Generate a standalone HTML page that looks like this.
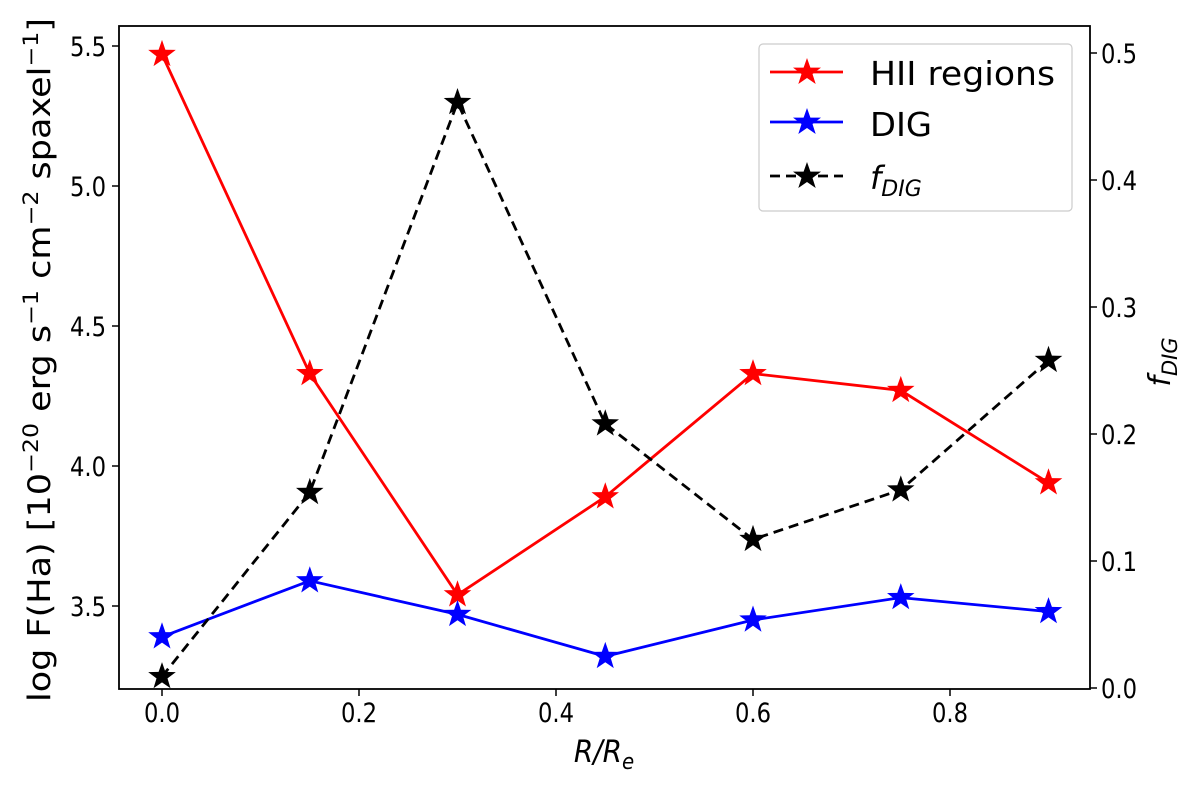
<!DOCTYPE html>
<html><head><meta charset="utf-8"><style>
body{margin:0;background:#fff}
svg text{font-family:"DejaVu Sans","Liberation Sans",sans-serif;fill:#000}
</style></head><body>
<svg id="c" width="1200" height="783" xmlns="http://www.w3.org/2000/svg"></svg>
<script>
const categories=[0,0.15,0.3,0.45,0.6,0.75,0.9];
const hiiValues=[5.47,4.33,3.54,3.89,4.33,4.27,3.94];
const digValues=[3.39,3.59,3.47,3.32,3.45,3.53,3.48];
const fdigValues=[0.009,0.154,0.461,0.208,0.117,0.156,0.258];
const xTicks=[0,0.2,0.4,0.6,0.8];
const xTickLabels=["0.0","0.2","0.4","0.6","0.8"];
const yTicks=[3.5,4.0,4.5,5.0,5.5];
const yTickLabels=["3.5","4.0","4.5","5.0","5.5"];
const y2Ticks=[0,0.1,0.2,0.3,0.4,0.5];
const y2TickLabels=["0.0","0.1","0.2","0.3","0.4","0.5"];

const L=119,R=1090,T=26,B=689;
const x=v=>162+985*v;
const y=v=>46+(5.5-v)*280;
const y2=v=>688-v*1270;
const svg=document.getElementById('c');
const NS='http://www.w3.org/2000/svg';
function mk(tag,at,parent){const e=document.createElementNS(NS,tag);for(const k in at)e.setAttribute(k,at[k]);(parent||svg).appendChild(e);return e;}
function star(cx,cy,r,color,name){
  let p=[];for(let i=0;i<10;i++){const a=-Math.PI/2+i*Math.PI/5;const rr=i%2?r*0.4:r;p.push((cx+rr*Math.cos(a)).toFixed(1)+','+(cy+rr*Math.sin(a)).toFixed(1));}
  const e=mk('polygon',{points:p.join(' '),fill:color});
  
  
  return e;
}
function series(vals,yf,color,dash,name){
  const pl=mk('polyline',{points:vals.map((v,i)=>x(categories[i])+','+yf(v)).join(' '),fill:'none',stroke:color,'stroke-width':2.8,'stroke-dasharray':dash||'none'});
  
  
  vals.forEach((v,i)=>star(x(categories[i]),yf(v),14.5,color,name+'-point'));
}
series(hiiValues,y,'#ff0000',null,'hii');
series(digValues,y,'#0000ff',null,'dig');
series(fdigValues,y2,'#000000','10,6','fdig');

const fr=mk('rect',{x:L,y:T,width:R-L,height:B-T,fill:'none',stroke:'#000','stroke-width':1.8});



function lbl(tx,ty,s,anchor){
  return mk('text',{transform:`translate(${tx},${ty}) scale(0.84,1)`,'font-size':27,'text-anchor':anchor});
}
xTicks.forEach((v,i)=>{mk('line',{x1:x(v),x2:x(v),y1:B,y2:B+7,stroke:'#000','stroke-width':1.5});
 const t=lbl(x(v),722,'','middle');t.textContent=xTickLabels[i];
 
 });
yTicks.forEach((v,i)=>{mk('line',{x1:L-7,x2:L,y1:y(v),y2:y(v),stroke:'#000','stroke-width':1.5});
 const t=lbl(L-13,y(v)+10,'','end');t.textContent=yTickLabels[i];
 
 });
y2Ticks.forEach((v,i)=>{mk('line',{x1:R,x2:R+7,y1:y2(v),y2:y2(v),stroke:'#000','stroke-width':1.5});
 const t=lbl(R+11,y2(v)+10,'','start');t.textContent=y2TickLabels[i];
 
 });
</script>
<svg width="1200" height="783" style="position:absolute;left:0;top:0" xmlns="http://www.w3.org/2000/svg">
<text transform="translate(604,762) scale(0.9,1)" font-size="31" text-anchor="middle" font-style="italic">R/R<tspan font-size="22" dy="7">e</tspan></text>
<text transform="translate(50,360) rotate(-90)" font-size="31" text-anchor="middle" textLength="684" lengthAdjust="spacingAndGlyphs">log F(Ha) [10<tspan font-size="21" dy="-12">−20</tspan><tspan dy="12"> erg s</tspan><tspan font-size="21" dy="-12">−1</tspan><tspan dy="12"> cm</tspan><tspan font-size="21" dy="-12">−2</tspan><tspan dy="12"> spaxel</tspan><tspan font-size="21" dy="-12">−1</tspan><tspan dy="12">]</tspan></text>
<text transform="translate(1170,362) rotate(-90)" font-size="30" text-anchor="middle" font-style="italic">f<tspan font-size="21" dy="7">DIG</tspan></text>
<g>
<rect x="759" y="44" width="313" height="167" rx="4" fill="#fff" fill-opacity="0.8" stroke="#ccc" stroke-width="1.2"/>
<line x1="770" x2="843" y1="72" y2="72" stroke="#f00" stroke-width="2.8"/>
<polygon fill="#f00" points="807,58 810.4,67.6 821,67.6 812.5,74 815.7,84 807,78 798.3,84 801.5,74 793,67.6 803.6,67.6"/>
<text x="870" y="85" font-size="33" textLength="185" lengthAdjust="spacingAndGlyphs">HII regions</text>
<line x1="770" x2="843" y1="122" y2="122" stroke="#00f" stroke-width="2.8"/>
<polygon fill="#00f" points="807,108 810.4,117.6 821,117.6 812.5,124 815.7,134 807,128 798.3,134 801.5,124 793,117.6 803.6,117.6"/>
<text x="870" y="136" font-size="33" textLength="62" lengthAdjust="spacingAndGlyphs">DIG</text>
<line x1="770" x2="843" y1="176" y2="176" stroke="#000" stroke-width="2.8" stroke-dasharray="10,6"/>
<polygon fill="#000" points="807,162 810.4,171.6 821,171.6 812.5,178 815.7,188 807,182 798.3,188 801.5,178 793,171.6 803.6,171.6"/>
<text x="870" y="189" font-size="32" font-style="italic">f<tspan font-size="22" dy="7">DIG</tspan></text>
</g>
</svg>
</body></html>
